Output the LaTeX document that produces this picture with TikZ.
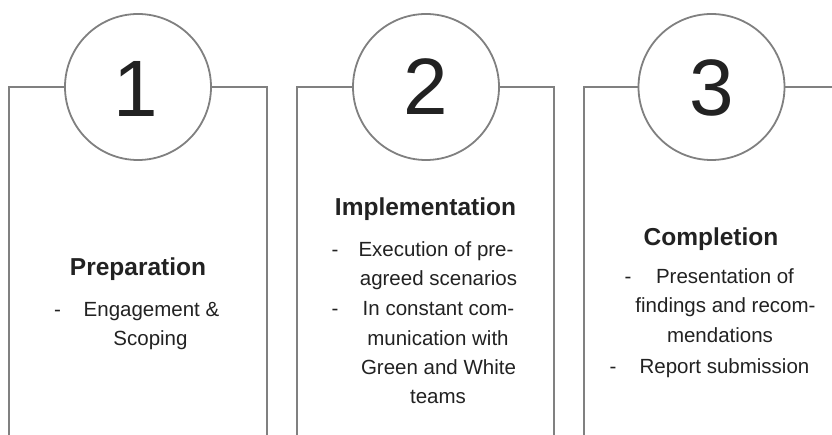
\documentclass[tikz,border=0pt]{standalone}
\usepackage{fontspec}
\setmainfont{Liberation Sans}
\definecolor{frame}{HTML}{808080}
\definecolor{ink}{HTML}{222222}
\begin{document}
\begin{tikzpicture}[x=1pt,y=-1pt,
  framel/.style={draw=frame,line width=1.8pt},
  numcircle/.style={circle,draw=frame,line width=1.8pt,fill=white,minimum size=146pt,inner sep=0pt},
  numtext/.style={anchor=base,text=ink,font=\fontsize{80}{80}\selectfont},
  title/.style={anchor=base,text=ink,font=\fontsize{24.5}{28}\selectfont\bfseries},
  body/.style={anchor=base,text=ink,font=\fontsize{20.5}{29}\selectfont},
  dashmark/.style={anchor=base,text=ink,font=\fontsize{20.5}{29}\selectfont}]
\useasboundingbox (0,0) rectangle (832,435);
\fill[white] (0,0) rectangle (832,435);
% corners
\coordinate (a1) at (9,435);
\coordinate (b1) at (9,87);
\coordinate (c1r) at (267,87);
\coordinate (d1) at (267,435);
\coordinate (a2) at (297,435);
\coordinate (b2) at (297,87);
\coordinate (c2r) at (554,87);
\coordinate (d2) at (554,435);
\coordinate (a3) at (584,435);
\coordinate (b3) at (584,87);
\coordinate (c3r) at (832,87);
% circles
\node[numcircle] (n1) at (138,87) {};
\node[numcircle] (n2) at (426,87) {};
\node[numcircle] (n3) at (711.5,87) {};
\draw[framel] (a1) -- (b1) -- (n1.west);
\draw[framel] (n1.east) -- (c1r) -- (d1);
\draw[framel] (a2) -- (b2) -- (n2.west);
\draw[framel] (n2.east) -- (c2r) -- (d2);
\draw[framel] (a3) -- (b3) -- (n3.west);
\draw[framel] (n3.east) -- (c3r);
\node[numtext] (t1) at (136,117) {1};
\node[numtext] (t2) at (426,115) {2};
\node[numtext] (t3) at (711.5,116) {3};
% panel 1
\node[title] (h1) at (138,276) {Preparation};
\node[dashmark] (d11) at (57.5,317) {-};
\node[body] (l11) at (151.5,317) {Engagement \&};
\node[body] (l12) at (150.5,345) {Scoping};
% panel 2
\node[title] (h2) at (425.5,216) {Implementation};
\node[dashmark] (d21) at (335,257) {-};
\node[body] (l21) at (436,257) {Execution of pre-};
\node[body] (l22) at (438.5,286) {agreed scenarios};
\node[dashmark] (d22) at (335,316) {-};
\node[body] (l23) at (438.5,316) {In constant com-};
\node[body] (l24) at (438,345) {munication with};
\node[body] (l25) at (438.5,374) {Green and White};
\node[body] (l26) at (438,403) {teams};
% panel 3
\node[title] (h3) at (711,246) {Completion};
\node[dashmark] (d31) at (628,284) {-};
\node[body] (l31) at (725,284) {Presentation of};
\node[body] (l32) at (725.5,313) {findings and recom-};
\node[body] (l33) at (720,342) {mendations};
\node[dashmark] (d32) at (613,373) {-};
\node[body] (l34) at (724.5,373) {Report submission};
\end{tikzpicture}
\end{document}
